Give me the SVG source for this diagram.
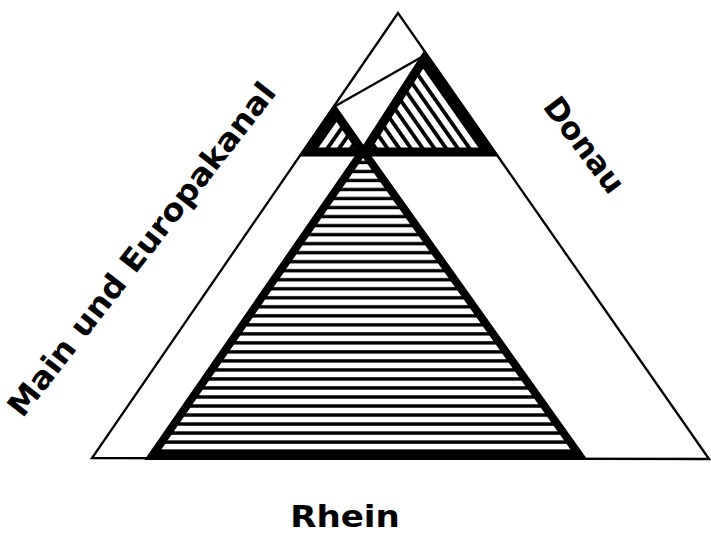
<svg xmlns="http://www.w3.org/2000/svg" width="711" height="534" viewBox="0 0 711 534">
<style>
.thin{fill:none;stroke:#000;stroke-width:2.3;stroke-linejoin:miter}
.thick{stroke:#000;stroke-width:8;stroke-linejoin:miter;stroke-miterlimit:10}
.thick2{stroke:#000;stroke-width:9;stroke-linejoin:miter;stroke-miterlimit:10}
.lbl{font-family:"DejaVu Sans","Liberation Sans",sans-serif;font-weight:bold;font-size:31px;fill:#000}
</style>
<defs>
<pattern id="hatchH" patternUnits="userSpaceOnUse" x="0" y="173.2" width="20" height="9.02">
<rect width="20" height="9.02" fill="#000"/>
<rect width="20" height="5.6" fill="#fff"/>
</pattern>
<pattern id="hatchR" patternUnits="userSpaceOnUse" width="20" height="9.6" patternTransform="rotate(55)">
<rect width="20" height="9.6" fill="#000"/>
<rect width="20" height="5.8" fill="#fff"/>
</pattern>
<pattern id="hatchL" patternUnits="userSpaceOnUse" width="20" height="9.6" patternTransform="rotate(-55)">
<rect width="20" height="9.6" fill="#000"/>
<rect width="20" height="5.8" fill="#fff"/>
</pattern>
</defs>
<rect width="711" height="534" fill="#fff"/>
<g id="outer-triangle">
<polygon class="thin" points="398,13 92,458 709,459"/>
<line class="thin" x1="332" y1="108" x2="427" y2="54"/>
</g>
<g id="field-left-small">
<polygon class="thick2" fill="url(#hatchL)" points="335,112 307,152 363,152"/>
</g>
<g id="field-right-small">
<polygon class="thick2" fill="url(#hatchR)" points="424,59 364,152 489,152"/>
</g>
<g id="field-main">
<polygon class="thick" fill="url(#hatchH)" points="363,151 152,456 580,456"/>
</g>
<g id="labels">
<text class="lbl" transform="translate(345,527) scale(1.1,1)" x="0" y="0" font-size="32" text-anchor="middle">Rhein</text>
<text class="lbl" transform="translate(150,256) rotate(-52) scale(1.06,1)" x="0" y="0" text-anchor="middle">Main und Europakanal</text>
<text class="lbl" transform="translate(583,146) rotate(53)" x="0" y="9" text-anchor="middle">Donau</text>
</g>
</svg>
